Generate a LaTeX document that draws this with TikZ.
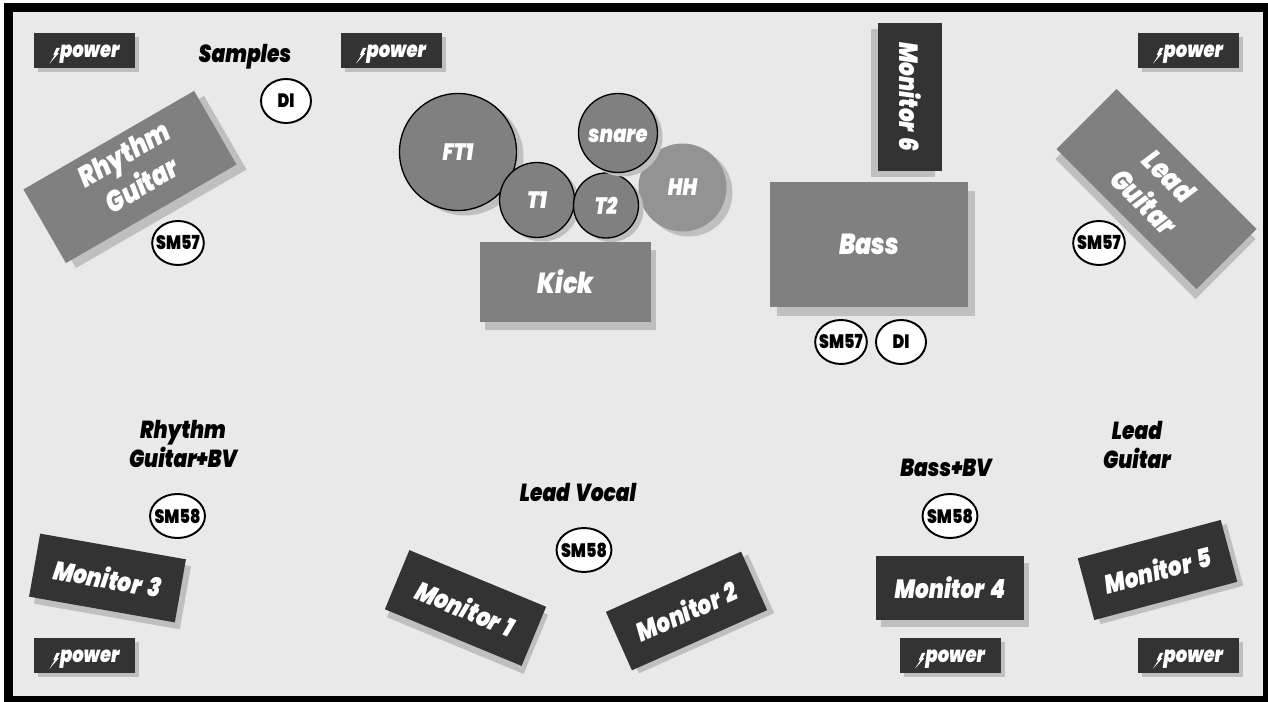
\documentclass[tikz,border=0pt]{standalone}
\usepackage{fontspec}
\usepackage{tikz}
\usetikzlibrary{shapes.geometric,shadows}
\newfontfamily\stagefont[FakeStretch=0.82,WordSpace=1.6]{Poppins Black Italic}
\newfontfamily\micfont[FakeStretch=0.82]{Poppins Black}
\definecolor{stagegray}{HTML}{E9E9E9}
\definecolor{shadegray}{HTML}{BFBFBF}
\definecolor{ampgray}{HTML}{808080}
\definecolor{hatgray}{HTML}{939393}
\definecolor{monitorgray}{HTML}{333333}
\newcommand{\boltmark}{\smash{\tikz[x=1pt,y=1pt,baseline=0pt]\fill[white] (0,-3.5) -- (3,1.3) -- (2.1,1.3) -- (4,5.5) -- (6,5.5) -- (4.3,2.5) -- (5.3,2.5) -- cycle;}}

\begin{document}
\begin{tikzpicture}[
    x=0.02cm, y=-0.02cm,
    cast/.style 2 args={general shadow={fill=shadegray, shadow xshift=#1*0.02cm, shadow yshift=-#2*0.02cm}},
    amp/.style={rectangle, fill=ampgray, text=white, inner sep=0pt, align=center, font=\stagefont\fontsize{16.5}{20.5}\selectfont},
    monitor/.style={rectangle, fill=monitorgray, text=white, minimum width=148*0.02cm, minimum height=64*0.02cm, inner sep=0pt, font=\stagefont\fontsize{15}{16}\selectfont},
    powerbox/.style={rectangle, fill=monitorgray, text=white, minimum width=101*0.02cm, minimum height=35*0.02cm, inner sep=0pt, text height=10pt, text depth=2pt, font=\stagefont\fontsize{12.5}{13}\selectfont},
    drum/.style={circle, fill=ampgray, draw=black, line width=0.75pt, text=white, inner sep=0pt, font=\stagefont\fontsize{13.5}{14}\selectfont},
    mic/.style={ellipse, fill=white, draw=black, line width=1.1pt, minimum width=50*0.02cm, minimum height=44*0.02cm, inner sep=-2pt, font=\micfont\fontsize{11}{12}\selectfont},
    caption/.style={align=center, inner sep=0pt, font=\stagefont\fontsize{14}{16.5}\selectfont}
]
    \useasboundingbox (0,0) rectangle (1268,702);
    \fill[black] (4,3) rectangle (1268,702);
    \fill[stagegray] (13,12) rectangle (1263,696);

    \foreach \px/\py/\pname in {84.5/50.5/powera, 391/50.5/powerb, 1188/50.5/powerc, 84.5/655.5/powerd, 950/655.5/powere, 1188/655.5/powerf}
        \node[powerbox, cast={4}{4}] (\pname) at (\px,\py) {\boltmark power};

    \node[caption] (samples) at (245,57) {Samples};
    \node[mic] (disamples) at (286,101) {DI};
    \node[amp, cast={10}{5}, minimum width=197*0.02cm, minimum height=85*0.02cm, rotate=30, text depth=6pt] (rhythm) at (130,177) {\hspace*{7pt}Rhythm\\\hspace*{7pt}Guitar};
    \node[mic] (micrhythm) at (178,243) {SM57};

    \node[drum, cast={7}{5}, minimum size=117*0.02cm] (ft1) at (458,152) {FT1};
    \node[drum, cast={5}{4}, minimum size=75*0.02cm] (t1) at (537,200) {T1};
    \node[circle, fill=hatgray, text=white, cast={6}{5}, minimum size=88*0.02cm, inner sep=0pt, font=\stagefont\fontsize{13.5}{14}\selectfont] (hh) at (682.5,187.5) {HH};
    \node[drum, cast={5}{4}, minimum size=65*0.02cm] (t2) at (606,205.5) {T2};
    \node[drum, cast={5}{4}, minimum size=79*0.02cm, text height=11pt] (snare) at (618,133) {snare};
    \node[amp, cast={5}{8}, minimum width=171*0.02cm, minimum height=80*0.02cm] (kick) at (565.5,282) {Kick};

    \node[monitor, cast={-7}{6}, rotate=-90] (monitor6) at (910,97) {Monitor 6};
    \node[amp, cast={7}{9}, minimum width=198*0.02cm, minimum height=125*0.02cm] (bass) at (869,244.5) {Bass};
    \node[mic] (micbass) at (841,342) {SM57};
    \node[mic] (dibass) at (901,342) {DI};
    \node[amp, cast={-1}{10}, minimum width=198*0.02cm, minimum height=85*0.02cm, rotate=-45] (lead) at (1156.5,189) {Lead\\Guitar};
    \node[mic] (miclead) at (1099,243) {SM57};

    \node[caption] (rhythmbv) at (183,444) {Rhythm\\Guitar+BV};
    \node[mic] (vocrhythm) at (177.5,516) {SM58};
    \node[monitor, cast={5}{7}, rotate=-10] (monitor3) at (107.5,578) {Monitor 3};

    \node[caption] (leadvocal) at (578,492) {Lead Vocal};
    \node[mic] (vocal) at (584,550) {SM58};
    \node[monitor, cast={2}{8}, rotate=-22.5] (monitor1) at (465.5,608) {Monitor 1};
    \node[monitor, cast={7}{3}, rotate=24] (monitor2) at (686.5,611) {Monitor 2};

    \node[caption] (bassbv) at (946,468) {Bass+BV};
    \node[mic] (vocbass) at (950,516) {SM58};
    \node[monitor, cast={5}{7}] (monitor4) at (950,588) {Monitor 4};

    \node[caption] (leadguitar) at (1137,445) {Lead\\Guitar};
    \node[monitor, cast={6}{4}, rotate=15] (monitor5) at (1157.5,570) {Monitor 5};
\end{tikzpicture}
\end{document}
